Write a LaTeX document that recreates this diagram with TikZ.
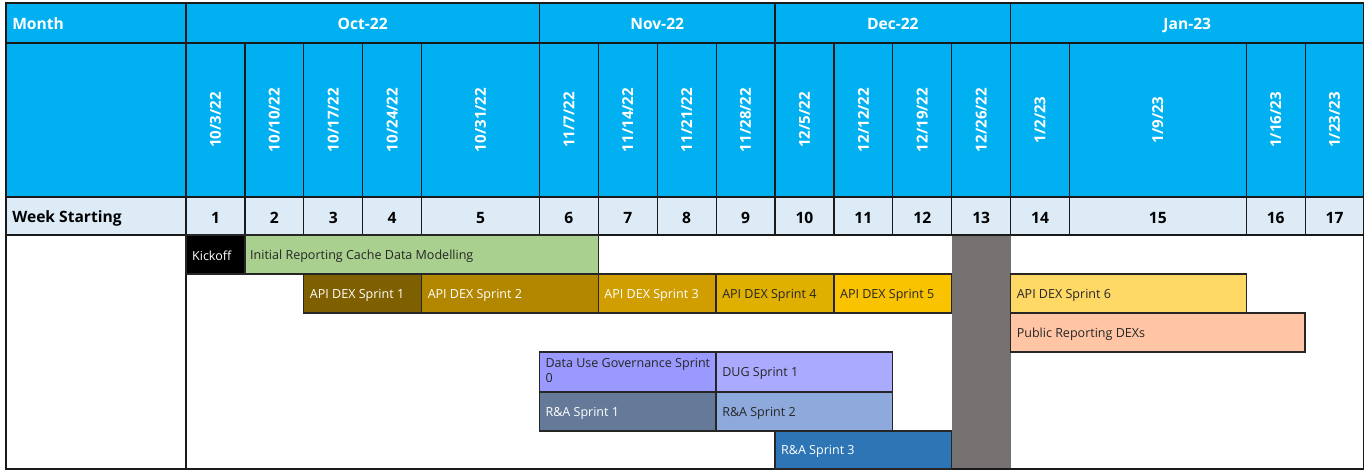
\documentclass[tikz,border=0pt]{standalone}
\usepackage{fontspec}
\setmainfont{Open Sans}
\usepackage{tikz}

\definecolor{headblue}{HTML}{00B0F0}
\definecolor{weekrow}{HTML}{DDEBF7}
\definecolor{gridline}{HTML}{1A1A1A}
\definecolor{taskline}{HTML}{262626}
\definecolor{holiday}{HTML}{757171}

\begin{document}
\begin{tikzpicture}[x=44.175pt, y=-0.75pt,
  hdr/.style={font=\fontsize{11.7}{13}\selectfont\bfseries, text=white},
  wk/.style={font=\fontsize{11.7}{13}\selectfont\bfseries},
  datetext/.style={font=\fontsize{11.3}{13}\selectfont\bfseries, text=white, rotate=90},
  task/.style={draw=taskline, line width=1pt},
  tasktext/.style={anchor=west, inner sep=0pt, font=\fontsize{9.4}{11}\selectfont, text=taskline}]
\useasboundingbox (-3.158,0) rectangle (20,470);

% header bands
\fill[headblue] (-3.056,3) rectangle (20,197);
\fill[weekrow] (-3.056,197) rectangle (20,235);

% holiday week
\fill[holiday] (13,235) rectangle (14,469);

% grid
\draw[gridline, line width=0.9pt] (-3.056,3) rectangle (20,469);
\draw[gridline, line width=0.9pt] (-3.056,43) -- (20,43) (-3.056,197) -- (20,197) (-3.056,235) -- (20,235);
\draw[gridline, line width=0.9pt] (0,3) -- (0,469);
\foreach \x in {6,10,14} \draw[gridline, line width=0.9pt] (\x,3) -- (\x,235);
\foreach \x in {1,2,3,4,7,8,9,11,12,13,15,18,19} \draw[gridline, line width=0.9pt] (\x,43) -- (\x,235);

% row titles and months
\node[hdr, anchor=base west, inner sep=0pt] (month) at (-2.954,29.5) {Month};
\node[wk, anchor=west, inner sep=0pt] (weekstart) at (-2.954,218) {Week Starting};
\node[hdr, anchor=base] (oct) at (3,29.5) {Oct-22};
\node[hdr, anchor=base] (nov) at (8,29.5) {Nov-22};
\node[hdr, anchor=base] (dec) at (12,29.5) {Dec-22};
\node[hdr, anchor=base] (jan) at (17,29.5) {Jan-23};

% week dates and numbers
\foreach \c/\m/\d/\y [count=\n] in {0.5/10/3/22, 1.5/10/10/22, 2.5/10/17/22, 3.5/10/24/22, 5/10/31/22,
    6.5/11/7/22, 7.5/11/14/22, 8.5/11/21/22, 9.5/11/28/22, 10.5/12/5/22, 11.5/12/12/22,
    12.5/12/19/22, 13.5/12/26/22, 14.5/1/2/23, 16.5/1/9/23, 18.5/1/16/23, 19.5/1/23/23}{
  \node[datetext] (date\n) at (\c,120) {\m/\d/\y};
  \node[wk] (week\n) at (\c,218) {\n};
}

% tasks
\draw[task, fill=black] (0,235) rectangle (1,274);
\node[tasktext, text=white] (kickoff) at (0.1,256) {Kickoff};
\draw[task, fill={rgb,255:red,169;green,208;blue,142}] (1,235) rectangle (7,274);
\node[tasktext] (cache) at (1.085,256) {Initial Reporting Cache Data Modelling};

\draw[task, fill={rgb,255:red,127;green,96;blue,0}] (2,274) rectangle (4,313);
\node[tasktext, text=white] (api1) at (2.1,295) {API DEX Sprint 1};
\draw[task, fill={rgb,255:red,179;green,134;blue,0}] (4,274) rectangle (7,313);
\node[tasktext, text=white] (api2) at (4.1,295) {API DEX Sprint 2};
\draw[task, fill={rgb,255:red,208;green,158;blue,0}] (7,274) rectangle (9,313);
\node[tasktext, text=white] (api3) at (7.1,295) {API DEX Sprint 3};
\draw[task, fill={rgb,255:red,224;green,176;blue,0}] (9,274) rectangle (11,313);
\node[tasktext] (api4) at (9.1,295) {API DEX Sprint 4};
\draw[task, fill={rgb,255:red,250;green,195;blue,0}] (11,274) rectangle (13,313);
\node[tasktext] (api5) at (11.1,295) {API DEX Sprint 5};
\draw[task, fill={rgb,255:red,255;green,217;blue,102}] (14,274) rectangle (18,313);
\node[tasktext] (api6) at (14.1,295) {API DEX Sprint 6};

\draw[task, fill={rgb,255:red,255;green,197;blue,165}] (14,313) rectangle (19,352);
\node[tasktext] (public) at (14.1,334) {Public Reporting DEXs};

\draw[task, fill={rgb,255:red,153;green,153;blue,255}] (6,352) rectangle (9,392);
\node[tasktext, anchor=north west, align=left] (dug0) at (6.1,358.5) {Data Use Governance Sprint\\0};
\draw[task, fill={rgb,255:red,170;green,170;blue,255}] (9,352) rectangle (12,392);
\node[tasktext] (dug1) at (9.1,373.5) {DUG Sprint 1};

\draw[task, fill={rgb,255:red,100;green,122;blue,152}] (6,392) rectangle (9,431);
\node[tasktext, text=white] (ra1) at (6.1,413) {R\&A Sprint 1};
\draw[task, fill={rgb,255:red,142;green,169;blue,219}] (9,392) rectangle (12,431);
\node[tasktext] (ra2) at (9.1,413) {R\&A Sprint 2};
\draw[task, fill={rgb,255:red,46;green,117;blue,182}] (10,431) rectangle (13,469);
\node[tasktext, text=white] (ra3) at (10.1,451.5) {R\&A Sprint 3};

\end{tikzpicture}
\end{document}
